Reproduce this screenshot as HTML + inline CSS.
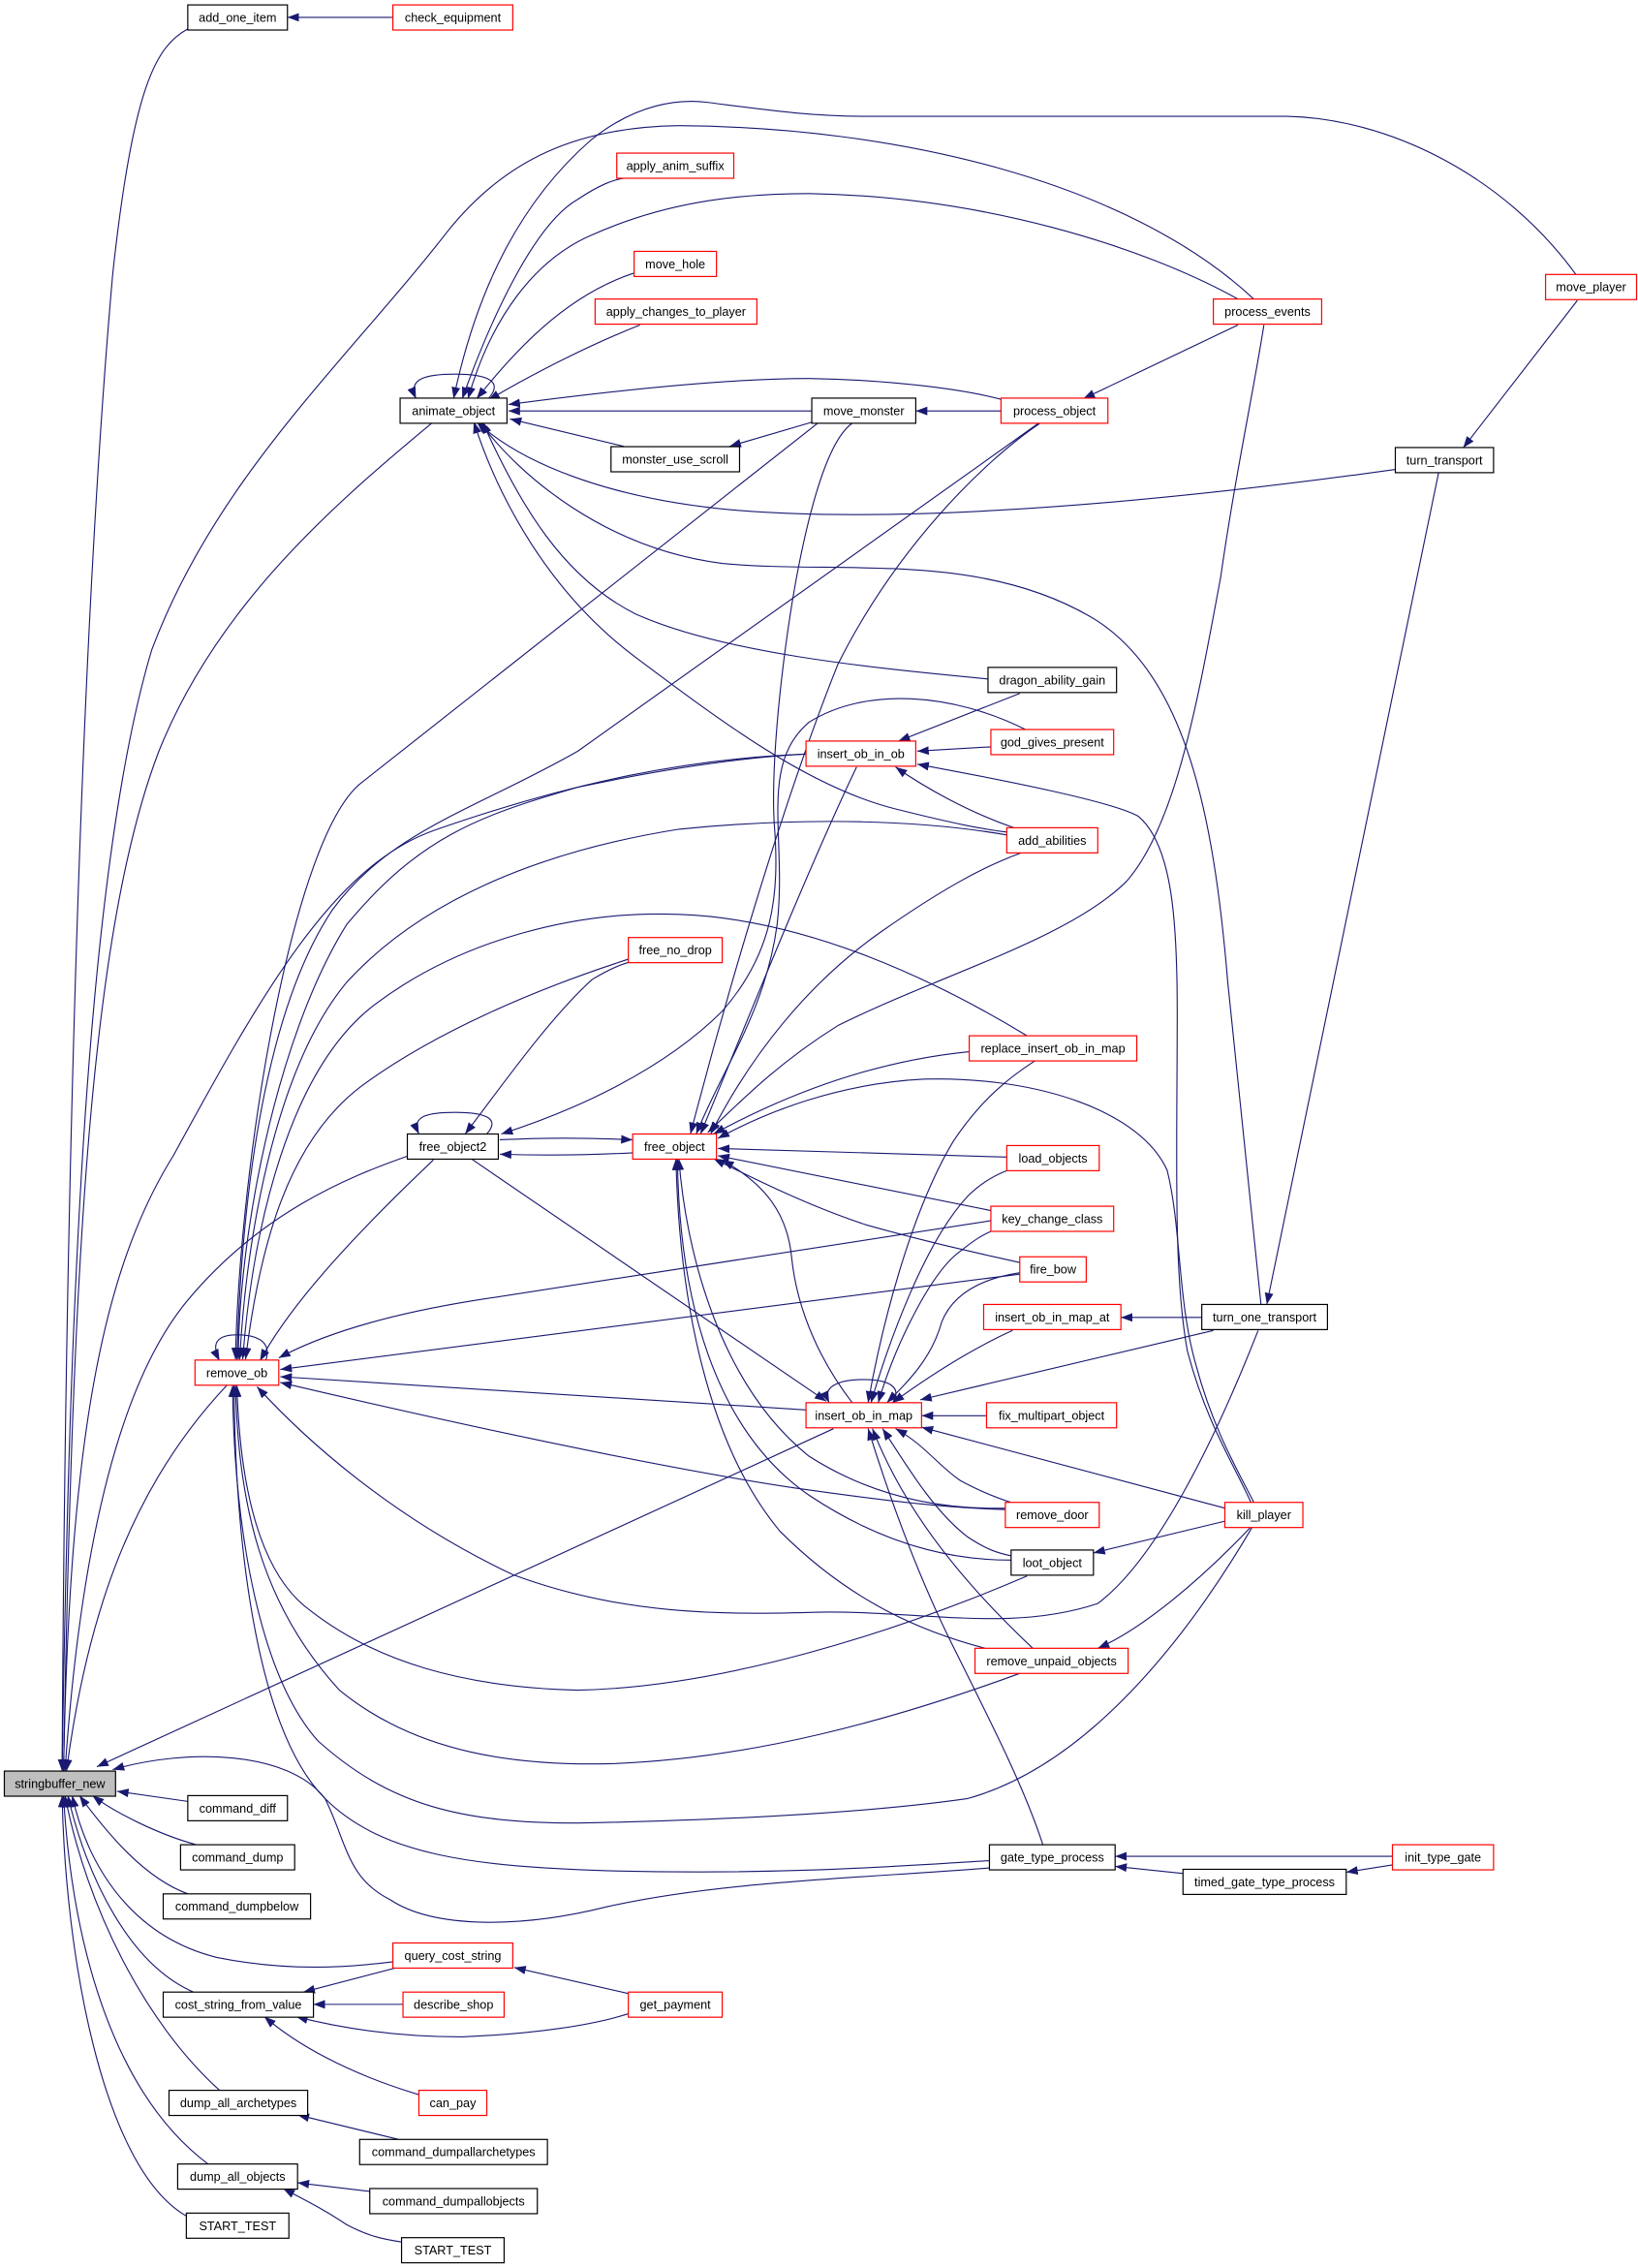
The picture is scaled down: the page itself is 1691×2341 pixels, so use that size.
<!DOCTYPE html>
<html><head><meta charset="utf-8"><style>
html,body{margin:0;padding:0;background:#fff;}
svg{display:block;}
text{font-family:"Liberation Sans",Arial,sans-serif;font-size:8.5px;fill:#000;text-anchor:middle;}
.b{fill:#fff;stroke:#000;stroke-width:0.8;}
.r{fill:#fff;stroke:#ff0000;stroke-width:0.8;}
.g{fill:#bfbfbf;stroke:#000;stroke-width:0.8;}
</style></head><body>
<svg width="1691" height="2341" viewBox="0 0 1134 1570" preserveAspectRatio="none" xmlns="http://www.w3.org/2000/svg">
<defs>
<marker id="a" markerUnits="userSpaceOnUse" viewBox="0 0 8 6" refX="8" refY="3" markerWidth="8" markerHeight="6" orient="auto-start-reverse"><path d="M0,0L8,3L0,6z" fill="#191970"/></marker>
</defs>
<g fill="none" stroke="#191970" stroke-width="0.75" marker-start="url(#a)">
<!-- into stringbuffer_new -->
<path d="M43,1226 C45,850 55,450 78,190 C92,60 108,32 130,20"/>
<path d="M43,1226 C48,900 60,600 105,450 C150,330 240,250 310,160 C350,110 400,88 470,87 C620,88 780,125 868,207"/>
<path d="M44,1226 C50,900 60,650 110,520 C150,420 230,350 300,292"/>
<path d="M44,1226 C48,1000 70,880 120,800 C180,690 230,600 300,575 C400,540 480,525 558,522"/>
<path d="M45,1226 C55,1080 80,960 130,900 C180,840 240,815 283,800"/>
<path d="M46,1226 C60,1120 90,1030 157,959"/>
<path d="M67,1223 L577,989"/>
<path d="M78,1225 C130,1210 200,1212 225,1245 C240,1275 240,1300 270,1315 C300,1335 360,1335 420,1320 C500,1302 600,1300 686,1293"/>
<path d="M81,1240 L130,1247"/>
<path d="M64,1243 C80,1255 110,1270 136,1277"/>
<path d="M55,1243 C75,1270 100,1300 130,1311"/>
<path d="M50,1243 C60,1290 90,1340 150,1355 C200,1365 240,1362 272,1358"/>
<path d="M47,1243 C60,1300 90,1360 134,1379"/>
<path d="M45,1243 C60,1320 100,1400 152,1447"/>
<path d="M44,1243 C50,1350 80,1450 144,1498"/>
<path d="M43,1243 C45,1350 70,1500 129,1534"/>
<!-- into remove_ob -->
<path d="M165,941 C165,860 190,720 240,640 C290,580 330,565 400,545 C470,530 520,524 558,522"/>
<path d="M163,941 C166,800 203,579 250,542 L566,293"/>
<path d="M164,941 C168,800 190,690 230,630 C270,575 330,560 400,520 L719,293"/>
<path d="M166,941 C170,860 190,740 240,680 C290,625 370,590 470,574 C560,565 640,568 697,578"/>
<path d="M168,941 C175,850 200,740 260,695 C320,650 400,630 470,633 C560,636 650,680 711,717"/>
<path d="M170,941 C180,860 200,790 250,752 C300,715 370,685 435,664"/>
<path d="M180,942 C200,905 240,860 300,803"/>
<path d="M290,942 C290,942 290,942 290,942" stroke="none" marker-start="none"/>
<path d="M162,959 C163,1080 180,1200 225,1245 C265,1285 330,1292 420,1295 C540,1298 620,1292 685,1288"/>
<path d="M161,959 C162,1060 180,1160 220,1205 C270,1250 320,1262 400,1262 C500,1260 600,1255 670,1245 C760,1220 830,1120 867,1057"/>
<path d="M163,959 C165,1040 180,1110 235,1170 C290,1215 360,1222 420,1221 C520,1218 620,1190 707,1158"/>
<path d="M164,959 C166,1030 180,1090 215,1115 C260,1150 320,1168 400,1170 C500,1168 620,1130 711,1091"/>
<path d="M178,960 C210,995 270,1050 355,1090 C430,1118 500,1118 567,1116 C640,1115 700,1130 760,1110 C800,1080 840,1000 871,921"/>
<path d="M194,957 C300,982 450,1015 550,1030 C620,1040 660,1044 697,1045"/>
<path d="M194,953 L558,976"/>
<path d="M194,948 L706,882"/>
<path d="M193,940 C230,920 280,908 330,900 L686,845"/>
<path d="M152,942 C146,930 150,924 164,924 C180,924 188,930 184,942"/>
<!-- into animate_object -->
<path d="M288,276 C282,262 295,259 315,259 C340,259 348,265 338,276"/>
<path d="M314,276 C330,200 360,140 409,97 C440,72 470,68 491,71 C530,76 560,80.5 600,80.5 L891,80.5 C960,82 1040,120 1091,190"/>
<path d="M324,276 C340,220 370,180 409,163 C460,140 510,134 560,134 C680,136 790,170 857,207"/>
<path d="M320,276 C340,220 370,155 400,138 C415,128 425,124 434,123"/>
<path d="M330,276 C355,245 390,205 439,189"/>
<path d="M338,277 C370,258 410,238 443,225"/>
<path d="M352,280 C420,271 500,262 560,262 C620,263 670,270 695,277"/>
<path d="M352,284.5 L562,284.5"/>
<path d="M353,290 L432,309"/>
<path d="M330,292 C360,320 420,345 507,353 C600,361 750,355 966,325"/>
<path d="M332,292 C360,330 420,380 500,390 C580,398 680,380 760,430 C820,470 840,560 850,680 C860,780 868,850 873,903"/>
<path d="M334,292 C360,350 390,400 440,425 C500,452 600,462 684,470"/>
<path d="M328,292 C345,345 380,410 440,455 C500,500 560,545 620,560 C660,570 680,574 697,576"/>
<!-- misc top -->
<path d="M634,284.5 L693,284.5"/>
<path d="M505,309 L563,292"/>
<path d="M750,276 L857,225"/>
<path d="M199,12 L272,12"/>
<path d="M1013,310 L1092,208"/>
<path d="M877,903 L996,327"/>
<path d="M776,912 L832,912"/>
<path d="M637,969 L840,921"/>
<!-- insert_ob_in_ob -->
<path d="M622,513 L706,480"/>
<path d="M635,520 L686,517"/>
<path d="M620,531 C640,545 670,562 702,573"/>
<path d="M635,529 C700,541 770,555 788,565 C812,585 815,640 815,700 C815,800 812,880 822,935 C835,985 855,1015 866,1040"/>
<!-- free_object2 / free_object -->
<path d="M497,788 C530,770 580,750 640,747 C720,745 790,770 808,810 C818,850 815,900 828,945 C840,990 858,1020 868,1040"/>
<path d="M290,785 C284,772 298,770 315,770 C338,770 346,775 337,785"/>
<path d="M438,789 C400,787.5 380,787.5 346,789"/>
<path d="M346,799 C380,800 410,799.5 438,798"/>
<path d="M322,785 C345,755 380,705 410,678 C420,672 428,668 436,666"/>
<path d="M347,785 C400,768 460,740 500,700 C535,660 540,620 536,570 C533,520 545,420 560,360 C570,320 580,300 590,293"/>
<path d="M478,785 C500,700 540,560 580,460 C620,380 680,320 720,293"/>
<path d="M490,784 C515,760 540,735 580,710 C650,675 740,650 780,610 C815,570 830,480 845,400 C855,330 868,270 875,225"/>
<path d="M492,785 C520,730 560,680 610,645 C650,617 680,600 708,590"/>
<path d="M482,785 C500,740 530,700 538,640 C545,580 525,530 560,500 C600,475 660,480 710,505"/>
<path d="M485,785 C520,700 560,600 593,531"/>
<path d="M494,785 C540,760 600,735 671,728"/>
<path d="M601,971 C610,920 630,840 660,790 C680,760 700,745 717,734"/>
<path d="M497,795 L697,801"/>
<path d="M497,800 L686,838"/>
<path d="M494,802 C520,815 560,835 600,848 C650,862 680,868 706,874"/>
<path d="M470,802 C475,870 500,960 560,1008 C610,1040 660,1045 697,1044"/>
<path d="M469,802 C470,900 495,990 560,1035 C620,1075 670,1080 700,1080"/>
<path d="M468,802 C470,900 490,1000 540,1060 C590,1110 640,1130 682,1141"/>
<path d="M500,803 C530,820 545,840 548,870 C552,910 570,945 590,971"/>
<!-- insert_ob_in_map -->
<path d="M574,971 C568,958 585,955 598,955 C615,955 625,960 618,971"/>
<path d="M572,970 L326,802"/>
<path d="M603,971 C615,930 640,860 670,828 C680,818 690,813 698,810"/>
<path d="M608,971 C620,930 645,880 665,866 C675,858 680,855 687,852"/>
<path d="M614,971 C630,955 645,940 652,915 C660,895 680,885 706,881"/>
<path d="M618,971 C640,955 670,935 701,921"/>
<path d="M638,980 L683,980"/>
<path d="M638,988 L848,1044"/>
<path d="M620,989 C640,1000 650,1015 665,1025 C680,1033 690,1037 700,1040"/>
<path d="M611,989 C625,1010 645,1045 670,1064 C682,1072 690,1075 700,1077"/>
<path d="M604,989 C620,1030 650,1080 715,1141"/>
<path d="M601,989 C620,1050 640,1100 660,1140 C690,1200 710,1240 722,1277"/>
<!-- kill_player -->
<path d="M757,1075 L848,1053"/>
<path d="M760,1141 C790,1128 830,1095 866,1057"/>
<!-- gates -->
<path d="M772,1285 L964,1285"/>
<path d="M772,1292 L820,1297"/>
<path d="M932,1296 L964,1291"/>
<!-- bottom-left -->
<path d="M210,1379 L275,1362"/>
<path d="M217,1387.5 L279,1387.5"/>
<path d="M205,1396 C240,1405 280,1410 320,1410 C370,1408 410,1402 435,1394"/>
<path d="M183,1396 C205,1415 240,1435 290,1450"/>
<path d="M356,1362 L435,1380"/>
<path d="M206,1464 L276,1481"/>
<path d="M206,1511 L256,1517"/>
<path d="M196,1515 C215,1525 225,1530 240,1540 C255,1548 265,1550 278,1552"/>
</g>
<!-- nodes -->
<rect class="b" x="130" y="3.4" width="69" height="17.4"/><text x="164.5" y="15.1">add_one_item</text>
<rect class="r" x="272" y="3.4" width="83" height="17.4"/><text x="313.5" y="15.1">check_equipment</text>
<rect class="r" x="427" y="106" width="81" height="17.4"/><text x="467.5" y="117.7">apply_anim_suffix</text>
<rect class="r" x="439" y="174" width="57" height="17.4"/><text x="467.5" y="185.7">move_hole</text>
<rect class="r" x="412" y="207" width="112" height="17.4"/><text x="468" y="218.7">apply_changes_to_player</text>
<rect class="r" x="840" y="207" width="75" height="17.4"/><text x="877.5" y="218.7">process_events</text>
<rect class="r" x="1070" y="190" width="63" height="17.4"/><text x="1101.5" y="201.7">move_player</text>
<rect class="b" x="277" y="275.6" width="74" height="17.4"/><text x="314" y="287.3">animate_object</text>
<rect class="b" x="562" y="275.6" width="72" height="17.4"/><text x="598" y="287.3">move_monster</text>
<rect class="r" x="693" y="275.6" width="74" height="17.4"/><text x="730" y="287.3">process_object</text>
<rect class="b" x="423" y="309.2" width="89" height="17.4"/><text x="467.5" y="320.9">monster_use_scroll</text>
<rect class="b" x="966" y="309.8" width="68" height="17.4"/><text x="1000" y="321.5">turn_transport</text>
<rect class="b" x="684" y="462" width="89" height="17.4"/><text x="728.5" y="473.7">dragon_ability_gain</text>
<rect class="r" x="558" y="513" width="76" height="17.4"/><text x="596" y="524.7">insert_ob_in_ob</text>
<rect class="r" x="686" y="505" width="85" height="17.4"/><text x="728.5" y="516.7">god_gives_present</text>
<rect class="r" x="697" y="573" width="63" height="17.4"/><text x="728.5" y="584.7">add_abilities</text>
<rect class="r" x="435" y="649" width="65" height="17.4"/><text x="467.5" y="660.7">free_no_drop</text>
<rect class="r" x="671" y="717" width="116" height="17.4"/><text x="729" y="728.7">replace_insert_ob_in_map</text>
<rect class="b" x="282" y="785" width="63" height="17.4"/><text x="313.5" y="796.7">free_object2</text>
<rect class="r" x="438" y="785" width="58" height="17.4"/><text x="467" y="796.7">free_object</text>
<rect class="r" x="697" y="793" width="64" height="17.4"/><text x="729" y="804.7">load_objects</text>
<rect class="r" x="686" y="835" width="85" height="17.4"/><text x="728.5" y="846.7">key_change_class</text>
<rect class="r" x="706" y="870" width="46" height="17.4"/><text x="729" y="881.7">fire_bow</text>
<rect class="r" x="681" y="903" width="95" height="17.4"/><text x="728.5" y="914.7">insert_ob_in_map_at</text>
<rect class="b" x="832" y="903" width="87" height="17.4"/><text x="875.5" y="914.7">turn_one_transport</text>
<rect class="r" x="135" y="941.5" width="58" height="17.4"/><text x="164" y="953.2">remove_ob</text>
<rect class="r" x="558" y="971" width="80" height="17.4"/><text x="598" y="982.7">insert_ob_in_map</text>
<rect class="r" x="683" y="971" width="90" height="17.4"/><text x="728" y="982.7">fix_multipart_object</text>
<rect class="r" x="696" y="1040" width="65" height="17.4"/><text x="728.5" y="1051.7">remove_door</text>
<rect class="r" x="848" y="1040" width="54" height="17.4"/><text x="875" y="1051.7">kill_player</text>
<rect class="b" x="700" y="1073" width="57" height="17.4"/><text x="728.5" y="1084.7">loot_object</text>
<rect class="r" x="675" y="1141" width="106" height="17.4"/><text x="728" y="1152.7">remove_unpaid_objects</text>
<rect class="g" x="3" y="1226" width="77" height="17.4"/><text x="41.5" y="1237.7">stringbuffer_new</text>
<rect class="b" x="130" y="1243" width="69" height="17.4"/><text x="164.5" y="1254.7">command_diff</text>
<rect class="b" x="125" y="1277" width="79" height="17.4"/><text x="164.5" y="1288.7">command_dump</text>
<rect class="b" x="113" y="1311" width="102" height="17.4"/><text x="164" y="1322.7">command_dumpbelow</text>
<rect class="b" x="685" y="1277" width="87" height="17.4"/><text x="728.5" y="1288.7">gate_type_process</text>
<rect class="b" x="819" y="1294" width="113" height="17.4"/><text x="875.5" y="1305.7">timed_gate_type_process</text>
<rect class="r" x="964" y="1277" width="70" height="17.4"/><text x="999" y="1288.7">init_type_gate</text>
<rect class="r" x="272" y="1345" width="83" height="17.4"/><text x="313.5" y="1356.7">query_cost_string</text>
<rect class="b" x="113" y="1379" width="104" height="17.4"/><text x="165" y="1390.7">cost_string_from_value</text>
<rect class="r" x="279" y="1379" width="70" height="17.4"/><text x="314" y="1390.7">describe_shop</text>
<rect class="r" x="435" y="1379" width="65" height="17.4"/><text x="467.5" y="1390.7">get_payment</text>
<rect class="b" x="117" y="1447" width="96" height="17.4"/><text x="165" y="1458.7">dump_all_archetypes</text>
<rect class="r" x="290" y="1447" width="47" height="17.4"/><text x="313.5" y="1458.7">can_pay</text>
<rect class="b" x="249" y="1481" width="130" height="17.4"/><text x="314" y="1492.7">command_dumpallarchetypes</text>
<rect class="b" x="123" y="1498" width="83" height="17.4"/><text x="164.5" y="1509.7">dump_all_objects</text>
<rect class="b" x="256" y="1515" width="116" height="17.4"/><text x="314" y="1526.7">command_dumpallobjects</text>
<rect class="b" x="129" y="1532" width="71" height="17.4"/><text x="164.5" y="1543.7">START_TEST</text>
<rect class="b" x="278" y="1549" width="71" height="17.4"/><text x="313.5" y="1560.7">START_TEST</text>
</svg>
</body></html>
